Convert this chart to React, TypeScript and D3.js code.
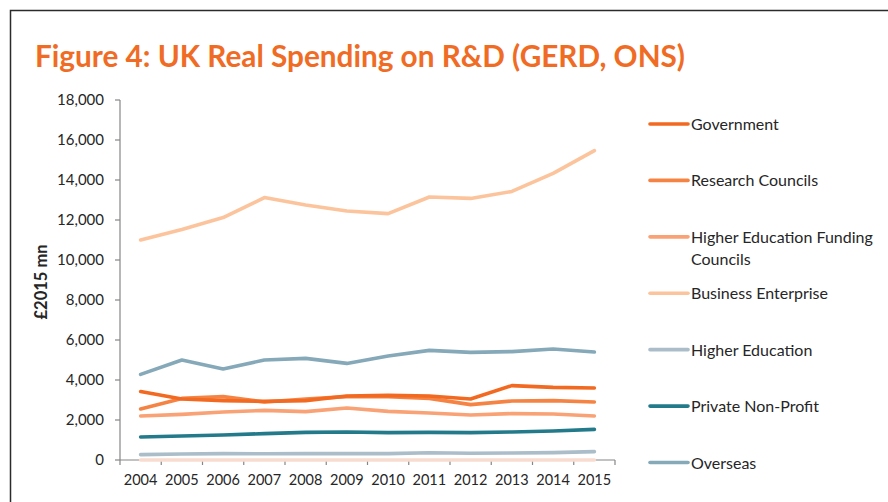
import React from "react";
import * as d3 from "d3";

// chart data
const years = ["2004", "2005", "2006", "2007", "2008", "2009", "2010", "2011", "2012", "2013", "2014", "2015"];

const government = [3420, 3050, 2970, 2930, 2970, 3200, 3230, 3200, 3050, 3720, 3630, 3600];
const researchCouncils = [2550, 3080, 3170, 2900, 3050, 3170, 3170, 3080, 2770, 2950, 2970, 2900];
const heFundingCouncils = [2200, 2280, 2400, 2480, 2420, 2600, 2430, 2350, 2250, 2320, 2300, 2200];
const businessEnterprise = [11000, 11530, 12120, 13120, 12750, 12450, 12320, 13150, 13080, 13430, 14330, 15470];
const higherEducation = [270, 300, 320, 310, 320, 320, 320, 360, 340, 350, 370, 420];
const privateNonProfit = [1150, 1200, 1250, 1320, 1380, 1400, 1370, 1380, 1370, 1400, 1450, 1530];
const overseas = [4280, 5000, 4550, 5000, 5080, 4830, 5200, 5480, 5380, 5420, 5550, 5400];
const unlisted = [0, 0, 0, 0, 0, 0, 0, 0, 0, 0, 0, 0];

const yTicks = [0, 2000, 4000, 6000, 8000, 10000, 12000, 14000, 16000, 18000];

const series = [
  { name: "Government", values: government, color: "#f26a21", legend: true },
  { name: "Research Councils", values: researchCouncils, color: "#f58444", legend: true },
  { name: "Higher Education Funding Councils", values: heFundingCouncils, color: "#f9a275", legend: true },
  { name: "Business Enterprise", values: businessEnterprise, color: "#fcc49c", legend: true },
  { name: "Higher Education", values: higherEducation, color: "#aabdc9", legend: true },
  { name: "Private Non-Profit", values: privateNonProfit, color: "#237a8b", legend: true },
  { name: "Overseas", values: overseas, color: "#85a9b9", legend: true },
  { name: "Other", values: unlisted, color: "#f9dcd0", legend: false },
];

const W = 888;
const H = 502;
const plot = { left: 120, right: 615, top: 100, bottom: 460 };
const font = "Lato, 'Open Sans', sans-serif";

const App = () => {
  const x = d3.scaleBand().domain(years).range([plot.left, plot.right]);
  const y = d3.scaleLinear().domain([0, 18000]).range([plot.bottom, plot.top]);
  const fmt = d3.format(",");

  const lineGen = d3
    .line<number>()
    .x((_, i) => (x(years[i]) as number) + x.bandwidth() / 2)
    .y((d) => y(d));

  const legendItems = series.filter((s) => s.legend);
  // legend rows: first entry at y=124, ~56.4px apart
  const legendY = d3.scaleLinear().domain([0, legendItems.length - 1]).range([124, 462.5]);

  // band boundaries for the x ticks
  const bounds = years.map((yr) => x(yr) as number).concat([plot.right]);

  return (
    <div style={{ position: "fixed", left: 0, top: 0 }}>
      <svg width={W} height={H} style={{ display: "block", background: "#fff" }}>
        {/* frame */}
        <path d={`M10.5,${H} V10.5 H${W}`} fill="none" stroke="#2b2b2b" strokeWidth={1.5} />

        <text x={35} y={67} fill="#f06c25" fontFamily={font} fontWeight="bold" fontSize={29.5} textLength={650} lengthAdjust="spacingAndGlyphs">
          Figure 4: UK Real Spending on R&amp;D (GERD, ONS)
        </text>

        {/* y axis */}
        <line x1={plot.left} x2={plot.left} y1={plot.top} y2={plot.bottom} stroke="#868686" strokeWidth={1.2} />
        {yTicks.map((t) => (
          <g key={t}>
            <line x1={plot.left - 5} x2={plot.left} y1={y(t)} y2={y(t)} stroke="#868686" strokeWidth={1.2} />
            <text x={plot.left - 16} y={y(t) + 5} textAnchor="end" fontFamily={font} fontSize={15} fill="#262626">
              {fmt(t)}
            </text>
          </g>
        ))}
        <text
          transform={`translate(47, ${(plot.top + plot.bottom) / 2 + 2}) rotate(-90)`}
          textAnchor="middle"
          fontFamily={font}
          fontWeight="bold"
          fontSize={16.5}
          fill="#262626"
        >
          £2015 mn
        </text>

        {/* x axis */}
        <line x1={plot.left} x2={plot.right} y1={plot.bottom} y2={plot.bottom} stroke="#868686" strokeWidth={1.2} />
        {bounds.map((b, i) => (
          <line key={i} x1={b} x2={b} y1={plot.bottom} y2={plot.bottom + 5} stroke="#868686" strokeWidth={1.2} />
        ))}
        {years.map((yr) => (
          <text key={yr} x={(x(yr) as number) + x.bandwidth() / 2} y={485} textAnchor="middle" fontFamily={font} fontSize={14.5} fill="#262626">
            {yr}
          </text>
        ))}

        {/* lines */}
        {series
          .slice()
          .reverse()
          .map((s) => (
            <path key={s.name} d={lineGen(s.values) as string} fill="none" stroke={s.color} strokeWidth={3.6} strokeLinecap="round" strokeLinejoin="round" />
          ))}

        {/* legend */}
        {legendItems.map((s, i) => {
          const ly = legendY(i);
          const words = s.name === "Higher Education Funding Councils" ? ["Higher Education Funding", "Councils"] : [s.name];
          return (
            <g key={s.name}>
              <line x1={650} x2={688} y1={ly} y2={ly} stroke={s.color} strokeWidth={3.6} strokeLinecap="round" />
              {words.map((w, j) => (
                <text key={j} x={691} y={ly + 6 + j * 22} fontFamily={font} fontSize={16} fill="#262626">
                  {w}
                </text>
              ))}
            </g>
          );
        })}
      </svg>
    </div>
  );
};

export default App;
